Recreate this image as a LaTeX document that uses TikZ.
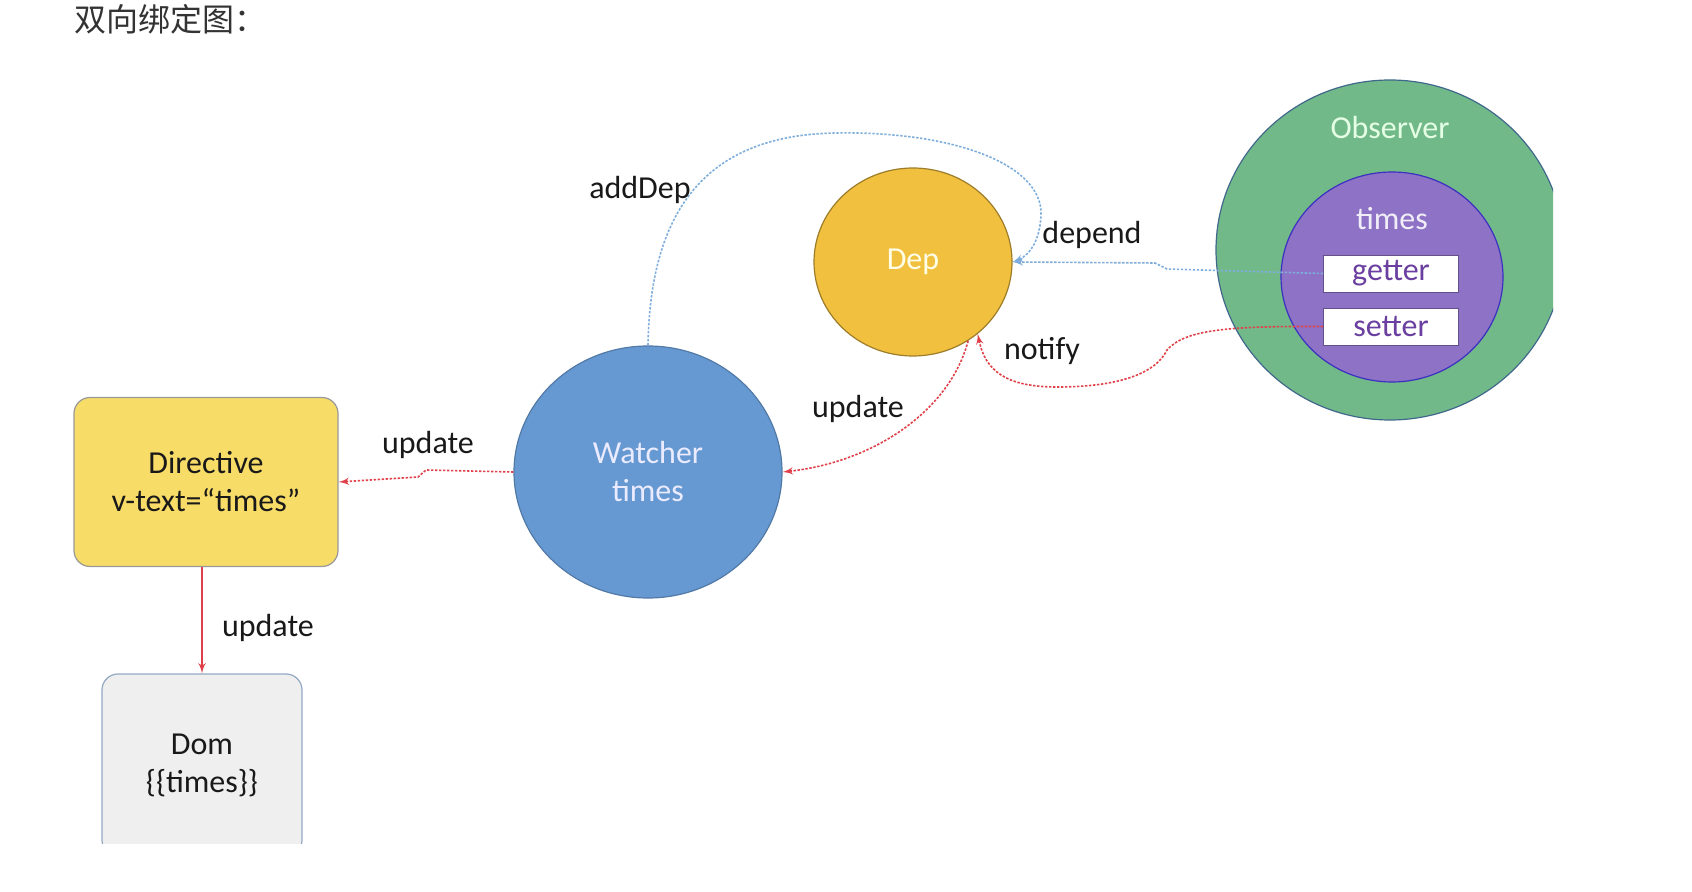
\documentclass[tikz,border=0pt]{standalone}
\usepackage{fontspec}
\setmainfont{Carlito}
\newfontfamily\cjk{Noto Sans CJK SC}
\usepackage{tikz}
\usetikzlibrary{shapes,arrows}
\definecolor{dirfill}{HTML}{F8DC68}
\definecolor{domfill}{HTML}{EFEFEF}
\definecolor{domline}{HTML}{94A9C4}
\definecolor{watchfill}{HTML}{6699D1}
\definecolor{depfill}{HTML}{F1C03F}
\definecolor{obsfill}{HTML}{72B98A}
\definecolor{propfill}{HTML}{8D72C6}
\definecolor{linered}{HTML}{E0404A}
\definecolor{lineblue}{HTML}{7FAEDC}
\definecolor{propink}{HTML}{6A3FA0}
\tikzstyle{block} = [draw=black!40, rectangle, rounded corners=8pt, align=center,
    font=\fontsize{16}{19}\selectfont, text=black!90, line width=0.6pt]
\tikzstyle{bubble} = [draw, ellipse, inner sep=0pt, align=center,
    font=\fontsize{16}{19}\selectfont, line width=0.6pt]
\tikzstyle{field} = [draw=propfill!70!black, fill=white, rectangle, inner sep=0pt,
    minimum width=67.5pt, minimum height=18.5pt, text=propink,
    font=\fontsize{16}{19}\selectfont]
\tikzstyle{caption} = [font=\fontsize{16}{19}\selectfont, text=black!90]
\tikzstyle{redline} = [draw=linered, line width=0.8pt, dash pattern=on 1.2pt off 0.8pt, ->]
\tikzstyle{blueline} = [draw=lineblue, line width=0.8pt, dash pattern=on 1.2pt off 0.8pt, ->]

\begin{document}
\begin{tikzpicture}[x=0.5pt, y=-0.5pt, >=latex']
    \useasboundingbox (0,0) rectangle (1692,892);

    \node [anchor=west, font=\cjk\fontsize{16}{19}\selectfont, text=black!80, inner sep=0pt]
        (title) at (74,19) {双向绑定图：};

    \begin{scope}
    \clip (72,80) rectangle (1553,843);

    % We start by placing the blocks
    \node [block, fill=dirfill, minimum width=132pt, minimum height=84.5pt] (directive)
        at (206,482) {Directive\\v-text=“times”};
    \node [block, fill=domfill, draw=domline, minimum width=100pt, minimum height=91pt]
        (dom) at (202,765) {Dom\\\{\{times\}\}};
    \node [bubble, fill=watchfill, draw=watchfill!80!black, text=white!92!blue,
        minimum width=134pt, minimum height=126pt] (watcher) at (648,472) {Watcher\\times};
    \node [bubble, fill=depfill, draw=depfill!65!black, text=white!90!yellow,
        minimum width=99pt, minimum height=94pt] (dep) at (913,262) {Dep};
    \node [bubble, fill=obsfill, draw=obsfill!70!blue!80!black,
        minimum width=174pt, minimum height=170pt] (observer) at (1390,250) {};
    \node [text=white!90!green, font=\fontsize{16}{19}\selectfont] (obsname) at (1390,128) {Observer};
    \node [bubble, fill=propfill, draw=propfill!50!blue!85!black,
        minimum width=111pt, minimum height=105pt] (times) at (1392,277) {};
    \node [text=white!88!propfill, font=\fontsize{16}{19}\selectfont] (timesname) at (1392,219) {times};
    \node [field] (getter) at (1391,273.5) {getter};
    \node [field] (setter) at (1391,326.5) {setter};
    \end{scope}

    % Once the nodes are placed, connecting them is easy.
    \draw [blueline] (watcher.north) .. controls (650,220) and (698,135) .. (836,133)
        .. controls (955,131) and (1043,165) .. (1041,215)
        .. controls (1040,240) and (1030,255) .. (dep.east);
    \node [caption] (adddep) at (640,190) {addDep};
    \draw [blueline] (getter.west) -- (1167,269) -- (1155,263) -- (dep.east);
    \node [caption] (depend) at (1092,235) {depend};
    \draw [redline] (setter.west) .. controls (1225,326) and (1185,330) .. (1167,350)
        .. controls (1155,375) and (1115,387) .. (1057,387)
        .. controls (1005,387) and (985,370) .. (dep.-48);
    \node [caption] (notify) at (1042,351) {notify};
    \draw [redline] (dep.-55) .. controls (950,410) and (875,462) .. (watcher.east);
    \node [caption] (upddep) at (858,409) {update};
    \draw [redline] (watcher.west) -- (426,470) -- (418,477) -- (directive.east);
    \node [caption] (updwatch) at (428,445) {update};
    \draw [->, draw=linered, line width=0.8pt] (dom.north |- directive.south) -- (dom.north);
    \node [caption, anchor=west] (upddir) at (215,628) {update};

\end{tikzpicture}
\end{document}
